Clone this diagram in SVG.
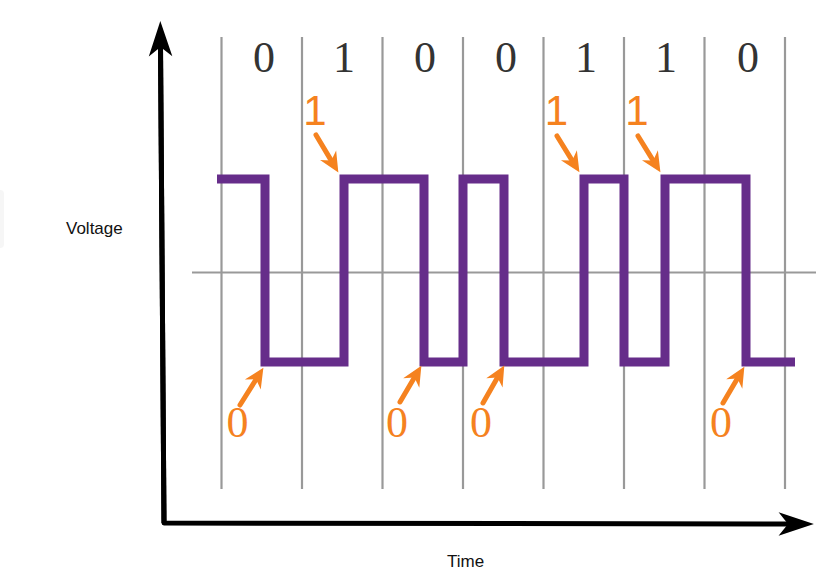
<svg xmlns="http://www.w3.org/2000/svg" width="839" height="570" viewBox="0 0 839 570">
<style>
.grid{stroke:#999;stroke-width:2.2;fill:none}
.wave{stroke:#662d8a;stroke-width:9;fill:none;stroke-linejoin:miter;stroke-linecap:butt}
.axis{stroke:#000;stroke-width:5;fill:none;stroke-linejoin:round}
.oarr{stroke:#f5821f;stroke-width:5;fill:none;stroke-linecap:round}
.bit{font-family:"Liberation Serif",serif;font-size:44px;fill:#333;text-anchor:middle}
.o0{font-family:"Liberation Serif",serif;font-size:44px;fill:#f5821f;text-anchor:middle}
.o1{font-family:"Liberation Sans",sans-serif;font-size:42px;fill:#f5821f;text-anchor:middle}
.lbl{font-family:"Liberation Sans",Arial,sans-serif;font-size:17px;fill:#111}
</style>
<defs>
<marker id="ah" markerUnits="userSpaceOnUse" markerWidth="40" markerHeight="30" viewBox="-10 -12 34 24" refX="0" refY="0" orient="auto" overflow="visible">
<path d="M22,0 L-8,-10 L0,0 L-8,10 Z" fill="#000"/>
</marker>
<marker id="oh" markerUnits="userSpaceOnUse" markerWidth="30" markerHeight="20" viewBox="-6 -8 18 16" refX="0" refY="0" orient="auto" overflow="visible">
<path d="M11,0 L-5,-7.5 L0,0 L-5,7.5 Z" fill="#f5821f"/>
</marker>
</defs>
<rect x="-10" y="190" width="14" height="58" rx="4" fill="#f6f6f6"/>
<g id="grid">
<line class="grid" x1="221.5" y1="37" x2="221.5" y2="489"/>
<line class="grid" x1="302" y1="37" x2="302" y2="489"/>
<line class="grid" x1="382.5" y1="37" x2="382.5" y2="489"/>
<line class="grid" x1="463" y1="37" x2="463" y2="489"/>
<line class="grid" x1="543.5" y1="37" x2="543.5" y2="489"/>
<line class="grid" x1="624" y1="37" x2="624" y2="489"/>
<line class="grid" x1="704.5" y1="37" x2="704.5" y2="489"/>
<line class="grid" x1="785" y1="37" x2="785" y2="489"/>
<line class="grid" x1="192" y1="272.5" x2="816" y2="272.5"/>
</g>
<g id="bits">
<text class="bit" x="264" y="72">0</text>
<text class="bit" x="344" y="72">1</text>
<text class="bit" x="425" y="72">0</text>
<text class="bit" x="506" y="72">0</text>
<text class="bit" x="586" y="72">1</text>
<text class="bit" x="666" y="72">1</text>
<text class="bit" x="748" y="72">0</text>
</g>
<g id="waveform">
<path class="wave" d="M217,179 H265 V362 H344 V179 H424 V362 H463 V179 H504 V362 H584 V179 H624 V362 H665 V179 H746 V362 H795"/>
</g>
<g id="axes">
<path class="axis" d="M160.5,47 L164,523 L788,524" marker-end="url(#ah)"/>
<path class="axis" d="M164,523 L160.5,47" marker-end="url(#ah)"/>
</g>
<g id="connectors">
<path class="oarr" d="M316,135 L331.3,160.6" marker-end="url(#oh)"/>
<path class="oarr" d="M557,136 L572.2,160.6" marker-end="url(#oh)"/>
<path class="oarr" d="M638,136 L653.2,160.6" marker-end="url(#oh)"/>
<path class="oarr" d="M240,405 L256.1,379.3" marker-end="url(#oh)"/>
<path class="oarr" d="M400,402 L414.4,377.5" marker-end="url(#oh)"/>
<path class="oarr" d="M483,403 L497.5,377.5" marker-end="url(#oh)"/>
<path class="oarr" d="M723,403 L737.4,378.5" marker-end="url(#oh)"/>
</g>
<g id="labels">
<text class="o1" x="315" y="125">1</text>
<text class="o1" x="556.5" y="125">1</text>
<text class="o1" x="637" y="125">1</text>
<text class="o0" x="237.5" y="437">0</text>
<text class="o0" x="397" y="437">0</text>
<text class="o0" x="481" y="437">0</text>
<text class="o0" x="721" y="437">0</text>
<text id="voltage" class="lbl" x="66" y="234">Voltage</text>
<text id="time" class="lbl" x="447" y="567">Time</text>
</g>
</svg>
